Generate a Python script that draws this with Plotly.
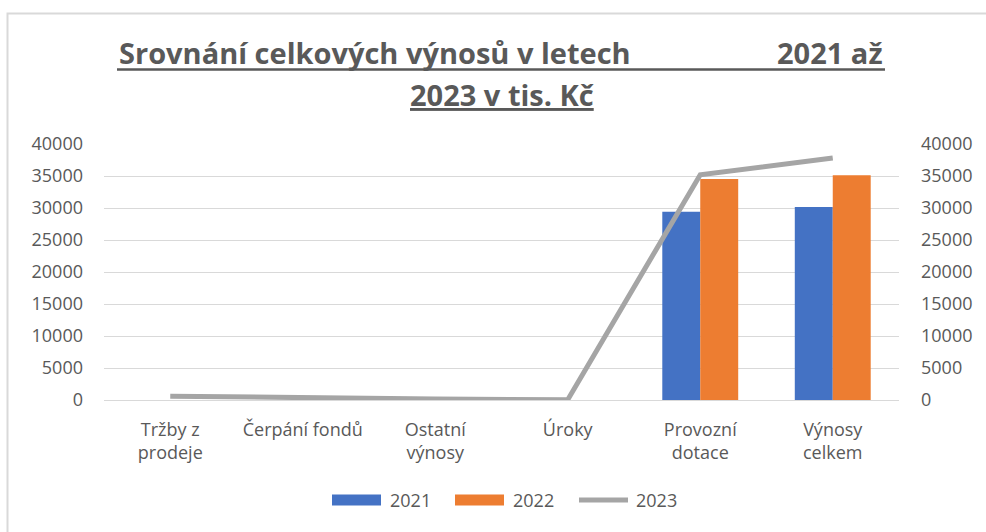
import plotly.graph_objects as go

categories = ["Tržby z<br>prodeje", "Čerpání fondů", "Ostatní<br>výnosy", "Úroky",
              "Provozní<br>dotace", "Výnosy<br>celkem"]
s2021 = [0, 0, 0, 0, 29420, 30160]
s2022 = [0, 0, 0, 0, 34530, 35110]
s2023 = [600, 350, 150, 50, 35200, 37800]
tick_vals = [0, 5000, 10000, 15000, 20000, 25000, 30000, 35000, 40000]
tick_text = [str(v) for v in tick_vals]

C21, C22, C23 = "#4472C4", "#ED7D31", "#A5A5A5"
TXT = "#595959"
FONT = "Open Sans"
TFONT = "Open Sans"

W, H = 986, 532
L, R, T, B = 104, 87, 144, 132
PW, PH = W - L - R, H - T - B


def px(x):
    return (x - L) / PW


def py(y):
    return (H - B - y) / PH


fig = go.Figure()
fig.add_trace(go.Bar(x=categories, y=s2021, name="2021", marker_color=C21,
                     marker_line_width=0, showlegend=False))
fig.add_trace(go.Bar(x=categories, y=s2022, name="2022", marker_color=C22,
                     marker_line_width=0, showlegend=False))
fig.add_trace(go.Scatter(x=categories, y=s2023, name="2023", mode="lines",
                         line=dict(color=C23, width=5), yaxis="y2", showlegend=False))

shapes = [
    # chart area border
    dict(type="rect", xref="paper", yref="paper", x0=px(7.5), x1=px(1010),
         y0=py(560), y1=py(13.5), line=dict(color="#D9D9D9", width=2), layer="below"),
    # title underline line 1
    dict(type="line", xref="paper", yref="paper", x0=px(117), x1=px(885),
         y0=py(69.5), y1=py(69.5), line=dict(color=TXT, width=2.5)),
    # legend swatches
    dict(type="rect", xref="paper", yref="paper", x0=px(332), x1=px(381),
         y0=py(505.5), y1=py(494.5), fillcolor=C21, line_width=0),
    dict(type="rect", xref="paper", yref="paper", x0=px(455), x1=px(504),
         y0=py(505.5), y1=py(494.5), fillcolor=C22, line_width=0),
    dict(type="line", xref="paper", yref="paper", x0=px(579), x1=px(628),
         y0=py(500), y1=py(500), line=dict(color=C23, width=5)),
]

ann = [
    dict(text="<b>Srovnání celkových výnosů v letech</b>", x=px(117), y=py(52.5),
         xanchor="left", yanchor="middle", font=dict(size=29, color=TXT, family=TFONT)),
    dict(text="<b>2021 až</b>", x=px(885), y=py(52.5),
         xanchor="right", yanchor="middle", font=dict(size=29, color=TXT, family=TFONT)),
    dict(text="<b>2023 v tis. Kč</b>", x=0.5, y=py(94.5),
         xanchor="center", yanchor="middle",
         font=dict(size=29, color=TXT, family=TFONT, lineposition="under")),
    dict(text="2021", x=px(388), y=py(500), xanchor="left", yanchor="middle",
         font=dict(size=18, color=TXT, family=FONT)),
    dict(text="2022", x=px(511), y=py(500), xanchor="left", yanchor="middle",
         font=dict(size=18, color=TXT, family=FONT)),
    dict(text="2023", x=px(634), y=py(500), xanchor="left", yanchor="middle",
         font=dict(size=18, color=TXT, family=FONT)),
]
for a in ann:
    a.update(xref="paper", yref="paper", showarrow=False)

fig.update_layout(
    width=W, height=H,
    margin=dict(l=L, r=R, t=T, b=B),
    paper_bgcolor="white", plot_bgcolor="white",
    barmode="group", bargap=0.427, bargroupgap=0,
    font=dict(family=FONT, size=18, color=TXT),
    shapes=shapes, annotations=ann,
    showlegend=False,
    xaxis=dict(showgrid=False, showline=False, ticks="", tickfont=dict(size=18, color=TXT),
               ticklabelstandoff=17),
    yaxis=dict(range=[0, 40000], tickvals=tick_vals, ticktext=tick_text,
               showgrid=True, gridcolor="#D9D9D9", gridwidth=1,
               zeroline=True, zerolinecolor="#D9D9D9", zerolinewidth=1,
               showline=False, ticks="", ticklabelstandoff=20,
               tickfont=dict(size=18, color=TXT)),
    yaxis2=dict(range=[0, 40000], tickvals=tick_vals, ticktext=tick_text,
                overlaying="y", side="right", showgrid=False, zeroline=False,
                showline=False, ticks="", ticklabelstandoff=21,
                tickfont=dict(size=18, color=TXT)),
)

fig.write_html("out.html")
